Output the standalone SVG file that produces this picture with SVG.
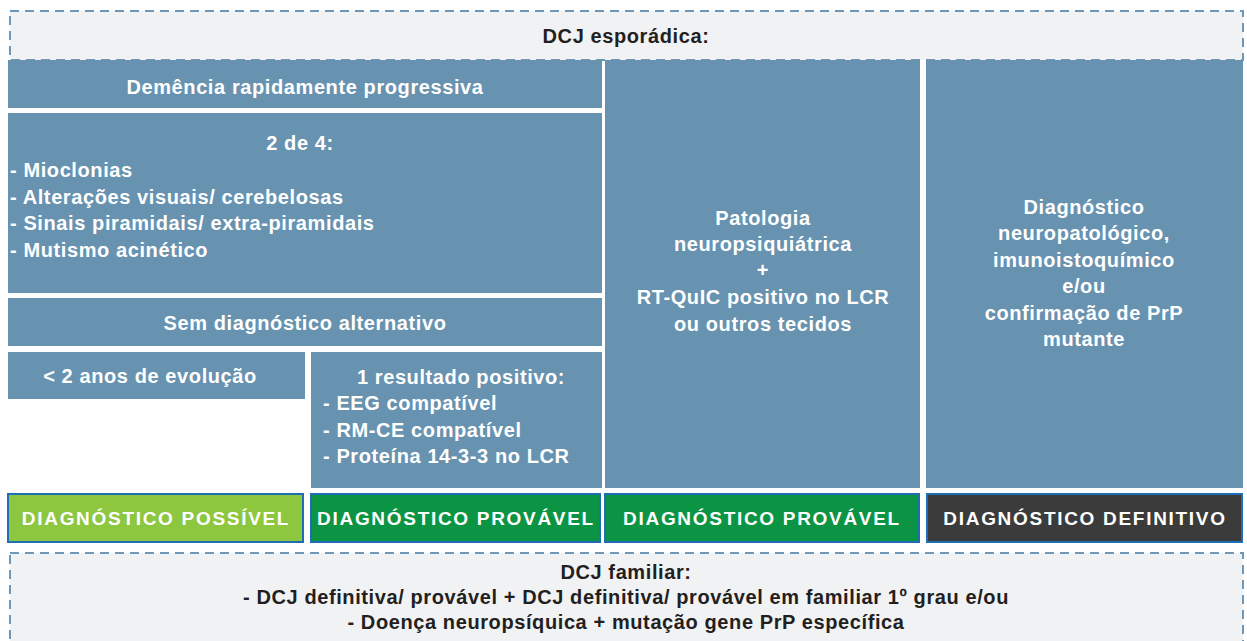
<svg xmlns="http://www.w3.org/2000/svg" width="1247" height="641" viewBox="0 0 1247 641">
<style>
.frame{fill:#f1f2f4;stroke:#6f98b6;stroke-width:2;stroke-dasharray:9 6}
.box{fill:#6792b0}
.t{font-family:"Liberation Sans",Arial,sans-serif;font-weight:bold;font-size:20px;letter-spacing:0.6px}
.w{fill:#ffffff}
.k{fill:#231f20}
.c{text-anchor:middle}
.lab{stroke:#1f6db3;stroke-width:2}
.lt{font-family:"Liberation Sans",Arial,sans-serif;font-weight:bold;font-size:19px;letter-spacing:1.7px;fill:#ffffff;text-anchor:middle}
</style>
<rect width="1247" height="641" fill="#ffffff"/>
<g id="header">
<rect class="frame" x="10" y="11" width="1233" height="49"/>
<text class="t k c" x="626" y="43">DCJ esporádica:</text>
</g>
<g id="demencia">
<rect class="box" x="8" y="60" width="594" height="48"/>
<text class="t w c" x="305" y="94">Demência rapidamente progressiva</text>
</g>
<g id="criterios">
<rect class="box" x="8" y="113" width="594" height="180"/>
<text class="t w c" x="300" y="150">2 de 4:</text>
<text class="t w" x="10" y="177">- Mioclonias</text>
<text class="t w" x="10" y="204">- Alterações visuais/ cerebelosas</text>
<text class="t w" x="10" y="230">- Sinais piramidais/ extra-piramidais</text>
<text class="t w" x="10" y="257">- Mutismo acinético</text>
</g>
<g id="semdiag">
<rect class="box" x="8" y="298" width="594" height="48"/>
<text class="t w c" x="305" y="330">Sem diagnóstico alternativo</text>
</g>
<g id="evolucao">
<rect class="box" x="8" y="352" width="297" height="47"/>
<text class="t w c" x="150" y="383">&lt; 2 anos de evolução</text>
</g>
<g id="resultado">
<rect class="box" x="311" y="352" width="291" height="136"/>
<text class="t w c" x="461" y="384">1 resultado positivo:</text>
<text class="t w" x="323" y="410">- EEG compatível</text>
<text class="t w" x="323" y="437">- RM-CE compatível</text>
<text class="t w" x="323" y="463">- Proteína 14-3-3 no LCR</text>
</g>
<g id="patologia">
<rect class="box" x="605" y="60" width="315" height="428"/>
<text class="t w c" x="763" y="225">Patologia</text>
<text class="t w c" x="763" y="251">neuropsiquiátrica</text>
<text class="t w c" x="763" y="277">+</text>
<text class="t w c" x="763" y="304">RT-QuIC positivo no LCR</text>
<text class="t w c" x="763" y="331">ou outros tecidos</text>
</g>
<g id="neuropat">
<rect class="box" x="926" y="60" width="317" height="428"/>
<text class="t w c" x="1084" y="214">Diagnóstico</text>
<text class="t w c" x="1084" y="240">neuropatológico,</text>
<text class="t w c" x="1084" y="267">imunoistoquímico</text>
<text class="t w c" x="1084" y="293">e/ou</text>
<text class="t w c" x="1084" y="320">confirmação de PrP</text>
<text class="t w c" x="1084" y="346">mutante</text>
</g>
<g id="possivel">
<rect class="lab" x="8" y="494" width="295" height="48" fill="#8dc63f"/>
<text class="lt" x="156" y="525">DIAGNÓSTICO POSSÍVEL</text>
</g>
<g id="provavel1">
<rect class="lab" x="311" y="494" width="289" height="48" fill="#0b9444"/>
<text class="lt" x="456" y="525">DIAGNÓSTICO PROVÁVEL</text>
</g>
<g id="provavel2">
<rect class="lab" x="605" y="494" width="314" height="48" fill="#0b9444"/>
<text class="lt" x="762" y="525">DIAGNÓSTICO PROVÁVEL</text>
</g>
<g id="definitivo">
<rect class="lab" x="927" y="494" width="315" height="48" fill="#3b3b3b"/>
<text class="lt" x="1085" y="525">DIAGNÓSTICO DEFINITIVO</text>
</g>
<g id="familiar">
<rect class="frame" x="10" y="553" width="1233" height="100"/>
<text class="t k c" x="626" y="579">DCJ familiar:</text>
<text class="t k c" x="626" y="604">- DCJ definitiva/ provável + DCJ definitiva/ provável em familiar 1º grau e/ou</text>
<text class="t k c" x="626" y="629">- Doença neuropsíquica + mutação gene PrP específica</text>
</g>
<g id="connectors"></g>
</svg>
